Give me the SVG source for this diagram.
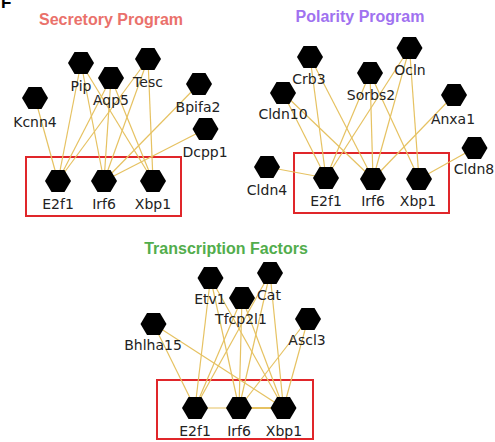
<svg xmlns="http://www.w3.org/2000/svg" xmlns:xlink="http://www.w3.org/1999/xlink" width="495" height="442" viewBox="0 0 495 442">
<defs>
<polygon id="hex" points="-13,0 -6.5,-11 6.5,-11 13,0 6.5,11 -6.5,11"/>
<style>
.title{font-family:"Liberation Sans",Arial,sans-serif;font-weight:bold;font-size:16px;text-anchor:middle}
.lbl{font-family:"DejaVu Sans",Verdana,sans-serif;font-size:14px;fill:#222;text-anchor:middle}
.box{fill:none;stroke:#e0262a;stroke-width:2}
.edges line{stroke:#e6c262;stroke-width:1.2}
.node use{fill:#000}
</style>
</defs>
<rect width="495" height="442" fill="#fff"/>
<text x="1" y="7.5" style="font-family:'Liberation Sans',Arial,sans-serif;font-weight:bold;font-size:17px" fill="#000">F</text>

<text class="title" x="111" y="25" fill="#ea716b">Secretory Program</text>
<text class="title" x="360" y="22" fill="#a072f0">Polarity Program</text>
<text class="title" x="226" y="254" fill="#52ad4c">Transcription Factors</text>

<rect class="box" x="26" y="157" width="155" height="59"/>
<rect class="box" x="294" y="153" width="155" height="60"/>
<rect class="box" x="157" y="380" width="156" height="59"/>

<g id="connectors" class="edges">
<!-- Secretory -->
<line x1="35" y1="98" x2="58" y2="181"/>
<line x1="81" y1="63" x2="58" y2="181"/>
<line x1="81" y1="63" x2="104" y2="181"/>
<line x1="81" y1="63" x2="153" y2="181"/>
<line x1="111" y1="78" x2="58" y2="181"/>
<line x1="111" y1="78" x2="104" y2="181"/>
<line x1="111" y1="78" x2="153" y2="181"/>
<line x1="148" y1="59" x2="58" y2="181"/>
<line x1="148" y1="59" x2="104" y2="181"/>
<line x1="148" y1="59" x2="153" y2="181"/>
<line x1="199" y1="84" x2="104" y2="181"/>
<line x1="205.5" y1="129" x2="104" y2="181"/>
<!-- Polarity -->
<line x1="310" y1="57" x2="326" y2="178"/>
<line x1="310" y1="57" x2="373" y2="179"/>
<line x1="283" y1="93" x2="326" y2="178"/>
<line x1="283" y1="93" x2="373" y2="179"/>
<line x1="267" y1="167" x2="326" y2="178"/>
<line x1="370" y1="73" x2="326" y2="178"/>
<line x1="370" y1="73" x2="373" y2="179"/>
<line x1="370" y1="73" x2="419" y2="179"/>
<line x1="409.5" y1="48" x2="326" y2="178"/>
<line x1="409.5" y1="48" x2="373" y2="179"/>
<line x1="409.5" y1="48" x2="419" y2="179"/>
<line x1="454" y1="95" x2="373" y2="179"/>
<line x1="474.5" y1="148" x2="419" y2="179"/>
<!-- Transcription factors -->
<line x1="153.5" y1="324" x2="195" y2="408"/>
<line x1="153.5" y1="324" x2="283.5" y2="408"/>
<line x1="210.5" y1="278" x2="195" y2="408"/>
<line x1="210.5" y1="278" x2="239" y2="408"/>
<line x1="210.5" y1="278" x2="283.5" y2="408"/>
<line x1="242" y1="298" x2="195" y2="408"/>
<line x1="242" y1="298" x2="239" y2="408"/>
<line x1="242" y1="298" x2="283.5" y2="408"/>
<line x1="270" y1="273" x2="195" y2="408"/>
<line x1="270" y1="273" x2="239" y2="408"/>
<line x1="270" y1="273" x2="283.5" y2="408"/>
<line x1="308" y1="319" x2="239" y2="408"/>
<line x1="308" y1="319" x2="283.5" y2="408"/>
<line x1="195" y1="408" x2="239" y2="408"/>
<line x1="239" y1="408" x2="283.5" y2="408" style="stroke-width:2"/>
</g>

<!-- Secretory nodes -->
<g id="sec-kcnn4" class="node"><use xlink:href="#hex" x="35" y="98"/><text class="lbl" x="35" y="127">Kcnn4</text></g>
<g id="sec-pip" class="node"><use xlink:href="#hex" x="81" y="63"/><text class="lbl" x="81" y="91">Pip</text></g>
<g id="sec-aqp5" class="node"><use xlink:href="#hex" x="111" y="78"/><text class="lbl" x="111" y="105">Aqp5</text></g>
<g id="sec-tesc" class="node"><use xlink:href="#hex" x="148" y="59"/><text class="lbl" x="148" y="87">Tesc</text></g>
<g id="sec-bpifa2" class="node"><use xlink:href="#hex" x="199" y="84"/><text class="lbl" x="198" y="112">Bpifa2</text></g>
<g id="sec-dcpp1" class="node"><use xlink:href="#hex" x="205.5" y="129"/><text class="lbl" x="205" y="157">Dcpp1</text></g>
<g id="sec-e2f1" class="node"><use xlink:href="#hex" x="58" y="181"/><text class="lbl" x="58" y="209">E2f1</text></g>
<g id="sec-irf6" class="node"><use xlink:href="#hex" x="104" y="181"/><text class="lbl" x="104" y="209">Irf6</text></g>
<g id="sec-xbp1" class="node"><use xlink:href="#hex" x="153" y="181"/><text class="lbl" x="153" y="209">Xbp1</text></g>

<!-- Polarity nodes -->
<g id="pol-crb3" class="node"><use xlink:href="#hex" x="310" y="57"/><text class="lbl" x="309" y="84">Crb3</text></g>
<g id="pol-cldn10" class="node"><use xlink:href="#hex" x="283" y="93"/><text class="lbl" x="283" y="119">Cldn10</text></g>
<g id="pol-cldn4" class="node"><use xlink:href="#hex" x="267" y="167"/><text class="lbl" x="267" y="195">Cldn4</text></g>
<g id="pol-sorbs2" class="node"><use xlink:href="#hex" x="370" y="73"/><text class="lbl" x="371" y="100">Sorbs2</text></g>
<g id="pol-ocln" class="node"><use xlink:href="#hex" x="409.5" y="48"/><text class="lbl" x="410" y="75">Ocln</text></g>
<g id="pol-anxa1" class="node"><use xlink:href="#hex" x="454" y="95"/><text class="lbl" x="453" y="124">Anxa1</text></g>
<g id="pol-cldn8" class="node"><use xlink:href="#hex" x="474.5" y="148"/><text class="lbl" x="474" y="174">Cldn8</text></g>
<g id="pol-e2f1" class="node"><use xlink:href="#hex" x="326" y="178"/><text class="lbl" x="326" y="206">E2f1</text></g>
<g id="pol-irf6" class="node"><use xlink:href="#hex" x="373" y="179"/><text class="lbl" x="373" y="206">Irf6</text></g>
<g id="pol-xbp1" class="node"><use xlink:href="#hex" x="419" y="179"/><text class="lbl" x="418" y="206">Xbp1</text></g>

<!-- Transcription factor nodes -->
<g id="tf-etv1" class="node"><use xlink:href="#hex" x="210.5" y="278"/><text class="lbl" x="210" y="304">Etv1</text></g>
<g id="tf-cat" class="node"><use xlink:href="#hex" x="270" y="273"/><text class="lbl" x="269" y="300">Cat</text></g>
<g id="tf-tfcp2l1" class="node"><use xlink:href="#hex" x="242" y="298"/><text class="lbl" x="241" y="324">Tfcp2l1</text></g>
<g id="tf-bhlha15" class="node"><use xlink:href="#hex" x="153.5" y="324"/><text class="lbl" x="153" y="350">Bhlha15</text></g>
<g id="tf-ascl3" class="node"><use xlink:href="#hex" x="308" y="319"/><text class="lbl" x="307" y="345">Ascl3</text></g>
<g id="tf-e2f1" class="node"><use xlink:href="#hex" x="195" y="408"/><text class="lbl" x="195" y="436">E2f1</text></g>
<g id="tf-irf6" class="node"><use xlink:href="#hex" x="239" y="408"/><text class="lbl" x="239" y="436">Irf6</text></g>
<g id="tf-xbp1" class="node"><use xlink:href="#hex" x="283.5" y="408"/><text class="lbl" x="284" y="436">Xbp1</text></g>
</svg>
